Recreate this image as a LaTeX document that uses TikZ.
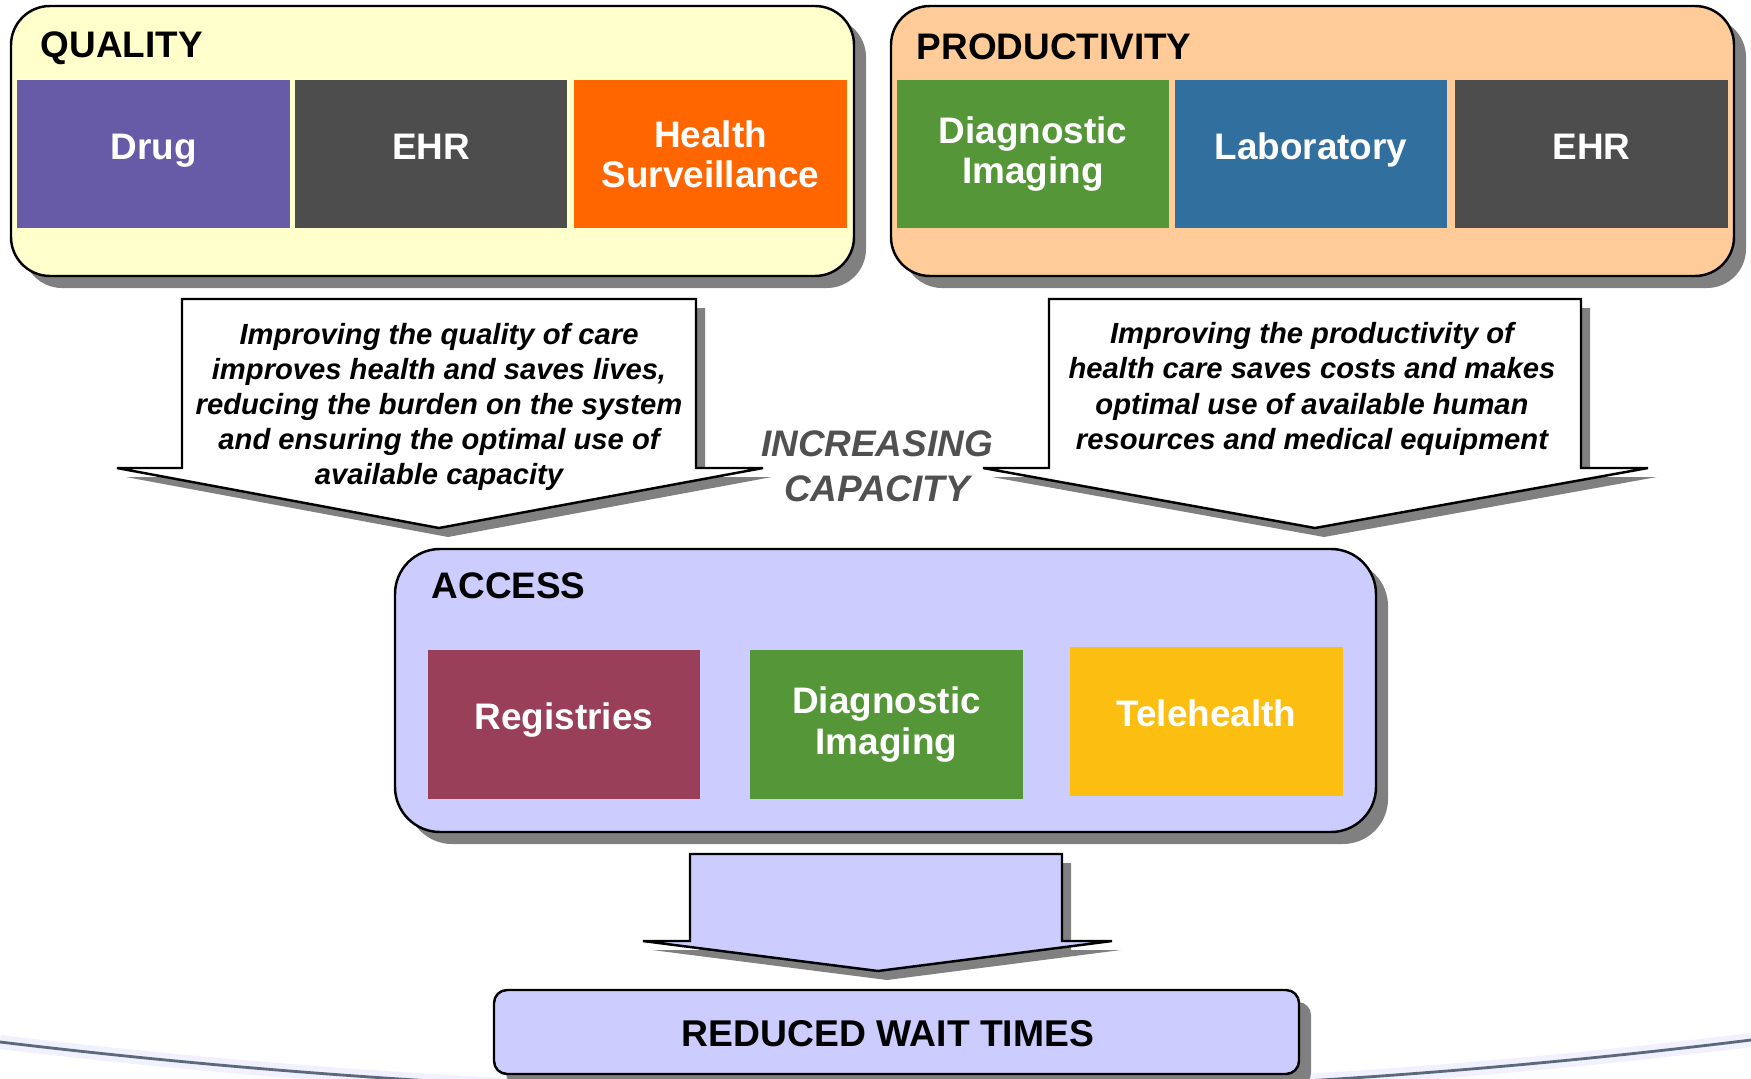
\documentclass[tikz,border=0pt]{standalone}
\usepackage{fontspec}
\setmainfont{Liberation Sans}
\usetikzlibrary{shadows}

\definecolor{qualfill}{HTML}{FFFFCC}
\definecolor{prodfill}{HTML}{FFCC99}
\definecolor{accfill}{HTML}{CCCCFF}
\definecolor{drugc}{HTML}{675AA6}
\definecolor{ehrc}{HTML}{4D4D4D}
\definecolor{survc}{HTML}{FF6600}
\definecolor{imgc}{HTML}{559638}
\definecolor{labc}{HTML}{31709E}
\definecolor{regc}{HTML}{9A3F59}
\definecolor{telec}{HTML}{FDBE12}
\definecolor{shadowc}{HTML}{808080}
\definecolor{capc}{HTML}{505050}
\definecolor{curvec}{HTML}{5A6A7A}

\tikzset{
  panel/.style={draw=black, line width=0.7pt,
    drop shadow={shadow xshift=1.2mm, shadow yshift=-1.2mm, fill=shadowc, opacity=1}},
  blockarrow/.style={draw=black, line width=0.7pt, fill=white,
    drop shadow={shadow xshift=0.9mm, shadow yshift=-0.9mm, fill=shadowc, opacity=1}},
  tile/.style={draw=none, text=white, inner sep=0pt, align=center,
    minimum width=2.72cm, minimum height=1.48cm,
    font=\fontsize{10.5}{11.4}\selectfont\bfseries},
  oneline/.style={text height=0.75em, text depth=0.45em},
  twoline/.style={},
  heading/.style={anchor=west, inner sep=0pt, font=\fontsize{10.5}{12}\selectfont\bfseries},
  note/.style={align=center, inner sep=0pt, font=\fontsize{8.3}{10}\selectfont\bfseries\itshape}
}

\begin{document}
\begin{tikzpicture}[x=0.01cm, y=-0.01cm]
\useasboundingbox (0,0) rectangle (1751,1079);
% background bowl
\draw[blue!6, line width=4pt] (0,1042) .. controls (583,1112) and (1167,1112) .. (1751,1040);
\draw[curvec, line width=0.8pt] (0,1042) .. controls (583,1112) and (1167,1112) .. (1751,1040);

% top panels
\draw[panel, fill=qualfill, rounded corners=3.9mm] (11,6) rectangle (854,276);
\draw[panel, fill=prodfill, rounded corners=3.9mm] (891,6) rectangle (1734,276);
\node[heading] (quality) at (40,48) {QUALITY};
\node[heading] (productivity) at (916,47) {PRODUCTIVITY};
\foreach \n/\x/\c/\s/\t in {drug/153.5/drugc/oneline/Drug, ehrq/431/ehrc/oneline/EHR,
    surv/710.5/survc/twoline/{Health\\Surveillance}, imgp/1033/imgc/twoline/{Diagnostic\\Imaging},
    lab/1311/labc/oneline/Laboratory, ehrp/1591.5/ehrc/oneline/EHR}
  {\node[tile, \s, fill=\c] (\n) at (\x,154) {\t};}

% arrows into access
\draw[blockarrow] (182,299) -- (696,299) -- (696,468) -- (763,468) -- (439,528) -- (117,468) -- (182,468) -- cycle;
\draw[blockarrow] (1049,299) -- (1581,299) -- (1581,468) -- (1648,468) -- (1315,528) -- (983,468) -- (1049,468) -- cycle;
\node[note] (qualnote) at (439,407) {Improving the quality of care\\improves health and saves lives,\\reducing the burden on the system\\and ensuring the optimal use of\\available capacity};
\node[note] (prodnote) at (1312,389) {Improving the productivity of\\health care saves costs and makes\\optimal use of available human\\resources and medical equipment};
\node[align=center, inner sep=0pt, text=capc, font=\fontsize{10.5}{12.7}\selectfont\bfseries\itshape] (capacity) at (877,466) {INCREASING\\CAPACITY};

% access panel
\draw[panel, fill=accfill, rounded corners=4.5mm] (395,549) rectangle (1376,832);
\node[heading] (access) at (431,586) {ACCESS};
\foreach \n/\x/\y/\c/\s/\t in {reg/564/724.5/regc/oneline/Registries,
    imga/886.5/724.5/imgc/twoline/{Diagnostic\\Imaging},
    tele/1206.5/721.5/telec/oneline/Telehealth}
  {\node[tile, \s, fill=\c] (\n) at (\x,\y) {\t};}

% result
\draw[blockarrow, fill=accfill] (690,854) -- (1062,854) -- (1062,941) -- (1112,941) -- (878,971) -- (643,941) -- (690,941) -- cycle;
\draw[panel, fill=accfill, rounded corners=1.3mm] (494,990) rectangle (1299,1074);
\node[font=\fontsize{10.6}{12}\selectfont\bfseries] (wait) at (888,1034) {REDUCED WAIT TIMES};
\end{tikzpicture}
\end{document}
